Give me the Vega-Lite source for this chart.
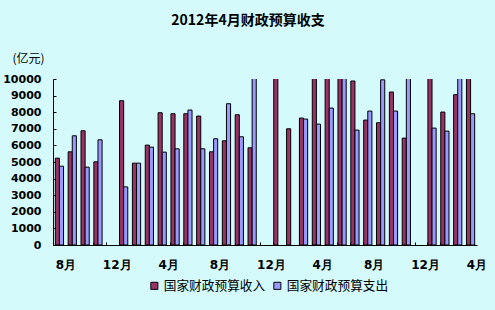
{
  "$schema": "https://vega.github.io/schema/vega-lite/v6.json",
  "width": 424,
  "height": 166,
  "autosize": {"type": "none"},
  "padding": {"left": 53, "top": 79, "right": 18, "bottom": 65},
  "background": "#d4fafc",
  "title": {
    "text": "2012年4月财政预算收支",
    "font": "Noto Sans CJK SC",
    "fontSize": 14,
    "fontWeight": "bold",
    "color": "black",
    "anchor": "middle",
    "dx": -17,
    "offset": 24
  },
  "data": {
    "values": [
      {"month": "2009-08", "series": "国家财政预算收入", "value": 5231},
      {"month": "2009-08", "series": "国家财政预算支出", "value": 4748},
      {"month": "2009-09", "series": "国家财政预算收入", "value": 5614},
      {"month": "2009-09", "series": "国家财政预算支出", "value": 6579},
      {"month": "2009-10", "series": "国家财政预算收入", "value": 6881},
      {"month": "2009-10", "series": "国家财政预算支出", "value": 4688},
      {"month": "2009-11", "series": "国家财政预算收入", "value": 5010},
      {"month": "2009-11", "series": "国家财政预算支出", "value": 6338},
      {"month": "2010-01", "series": "国家财政预算收入", "value": 8692},
      {"month": "2010-01", "series": "国家财政预算支出", "value": 3501},
      {"month": "2010-02", "series": "国家财政预算收入", "value": 4930},
      {"month": "2010-02", "series": "国家财政预算支出", "value": 4930},
      {"month": "2010-03", "series": "国家财政预算收入", "value": 6016},
      {"month": "2010-03", "series": "国家财政预算支出", "value": 5895},
      {"month": "2010-04", "series": "国家财政预算收入", "value": 7968},
      {"month": "2010-04", "series": "国家财政预算支出", "value": 5594},
      {"month": "2010-05", "series": "国家财政预算收入", "value": 7907},
      {"month": "2010-05", "series": "国家财政预算支出", "value": 5795},
      {"month": "2010-06", "series": "国家财政预算收入", "value": 7907},
      {"month": "2010-06", "series": "国家财政预算支出", "value": 8129},
      {"month": "2010-07", "series": "国家财政预算收入", "value": 7767},
      {"month": "2010-07", "series": "国家财政预算支出", "value": 5795},
      {"month": "2010-08", "series": "国家财政预算收入", "value": 5614},
      {"month": "2010-08", "series": "国家财政预算支出", "value": 6398},
      {"month": "2010-09", "series": "国家财政预算收入", "value": 6278},
      {"month": "2010-09", "series": "国家财政预算支出", "value": 8511},
      {"month": "2010-10", "series": "国家财政预算收入", "value": 7847},
      {"month": "2010-10", "series": "国家财政预算支出", "value": 6519},
      {"month": "2010-11", "series": "国家财政预算收入", "value": 5855},
      {"month": "2010-11", "series": "国家财政预算支出", "value": 10600},
      {"month": "2011-01", "series": "国家财政预算收入", "value": 10600},
      {"month": "2011-02", "series": "国家财政预算收入", "value": 7002},
      {"month": "2011-03", "series": "国家财政预算收入", "value": 7646},
      {"month": "2011-03", "series": "国家财政预算支出", "value": 7586},
      {"month": "2011-04", "series": "国家财政预算收入", "value": 10060},
      {"month": "2011-04", "series": "国家财政预算支出", "value": 7284},
      {"month": "2011-05", "series": "国家财政预算收入", "value": 10600},
      {"month": "2011-05", "series": "国家财政预算支出", "value": 8249},
      {"month": "2011-06", "series": "国家财政预算收入", "value": 10060},
      {"month": "2011-06", "series": "国家财政预算支出", "value": 10600},
      {"month": "2011-07", "series": "国家财政预算收入", "value": 9879},
      {"month": "2011-07", "series": "国家财政预算支出", "value": 6922},
      {"month": "2011-08", "series": "国家财政预算收入", "value": 7525},
      {"month": "2011-08", "series": "国家财政预算支出", "value": 8068},
      {"month": "2011-09", "series": "国家财政预算收入", "value": 7364},
      {"month": "2011-09", "series": "国家财政预算支出", "value": 9950},
      {"month": "2011-10", "series": "国家财政预算收入", "value": 9215},
      {"month": "2011-10", "series": "国家财政预算支出", "value": 8068},
      {"month": "2011-11", "series": "国家财政预算收入", "value": 6439},
      {"month": "2011-11", "series": "国家财政预算支出", "value": 10600},
      {"month": "2012-01", "series": "国家财政预算收入", "value": 10600},
      {"month": "2012-01", "series": "国家财政预算支出", "value": 7042},
      {"month": "2012-02", "series": "国家财政预算收入", "value": 8008},
      {"month": "2012-02", "series": "国家财政预算支出", "value": 6861},
      {"month": "2012-03", "series": "国家财政预算收入", "value": 9054},
      {"month": "2012-03", "series": "国家财政预算支出", "value": 10600},
      {"month": "2012-04", "series": "国家财政预算收入", "value": 10600},
      {"month": "2012-04", "series": "国家财政预算支出", "value": 7907}
    ]
  },
  "mark": {"type": "bar", "stroke": "black", "strokeWidth": 1, "clip": true},
  "encoding": {
    "x": {
      "field": "month",
      "type": "ordinal",
      "scale": {
        "domain": ["2009-08","2009-09","2009-10","2009-11","2009-12","2010-01","2010-02","2010-03","2010-04","2010-05","2010-06","2010-07","2010-08","2010-09","2010-10","2010-11","2010-12","2011-01","2011-02","2011-03","2011-04","2011-05","2011-06","2011-07","2011-08","2011-09","2011-10","2011-11","2011-12","2012-01","2012-02","2012-03","2012-04"],
        "paddingInner": 0.36,
        "paddingOuter": 0.18
      },
      "axis": {
        "title": null,
        "labelExpr": "toNumber(slice(datum.value,5)) % 4 == 0 ? toNumber(slice(datum.value,5)) + '月' : ''",
        "labelAngle": 0,
        "labelOverlap": false,
        "bandPosition": 0,
        "labelOffset": 6.4,
        "tickSize": -3,
        "labelPadding": 17,
        "labelFont": "DejaVu Sans",
        "labelFontSize": 12,
        "labelFontWeight": "bold",
        "labelColor": "black",
        "domainColor": "black",
        "tickColor": "black",
        "grid": false
      }
    },
    "xOffset": {"field": "series", "type": "nominal", "scale": {"domain": ["国家财政预算收入", "国家财政预算支出"]}},
    "y": {
      "field": "value",
      "type": "quantitative",
      "scale": {"domain": [0, 10000], "nice": false},
      "axis": {
        "title": "(亿元)",
        "titleAngle": 0,
        "titleX": -41,
        "titleY": -21,
        "titleAlign": "left",
        "titleBaseline": "middle",
        "titleFont": "Noto Sans CJK SC",
        "titleFontSize": 12,
        "titleFontWeight": "normal",
        "titleColor": "black",
        "values": [0,1000,2000,3000,4000,5000,6000,7000,8000,9000,10000],
        "format": "d",
        "labelFont": "DejaVu Sans",
        "labelFontSize": 11,
        "labelFontWeight": "bold",
        "labelColor": "black",
        "labelPadding": 15,
        "tickSize": -3,
        "domainColor": "black",
        "tickColor": "black",
        "grid": false
      }
    },
    "color": {
      "field": "series",
      "type": "nominal",
      "scale": {"domain": ["国家财政预算收入", "国家财政预算支出"], "range": ["#993366", "#9999ff"]},
      "legend": {
        "title": null,
        "orient": "none",
        "direction": "horizontal",
        "legendX": 95,
        "legendY": 200,
        "symbolType": "square",
        "symbolSize": 50,
        "symbolStrokeColor": "black",
        "symbolStrokeWidth": 1,
        "symbolOpacity": 1,
        "labelFont": "Noto Sans CJK SC",
        "labelFontSize": 12.7,
        "labelColor": "black",
        "labelOffset": 3,
        "columnPadding": 5
      }
    }
  },
  "config": {"view": {"stroke": null}}
}
